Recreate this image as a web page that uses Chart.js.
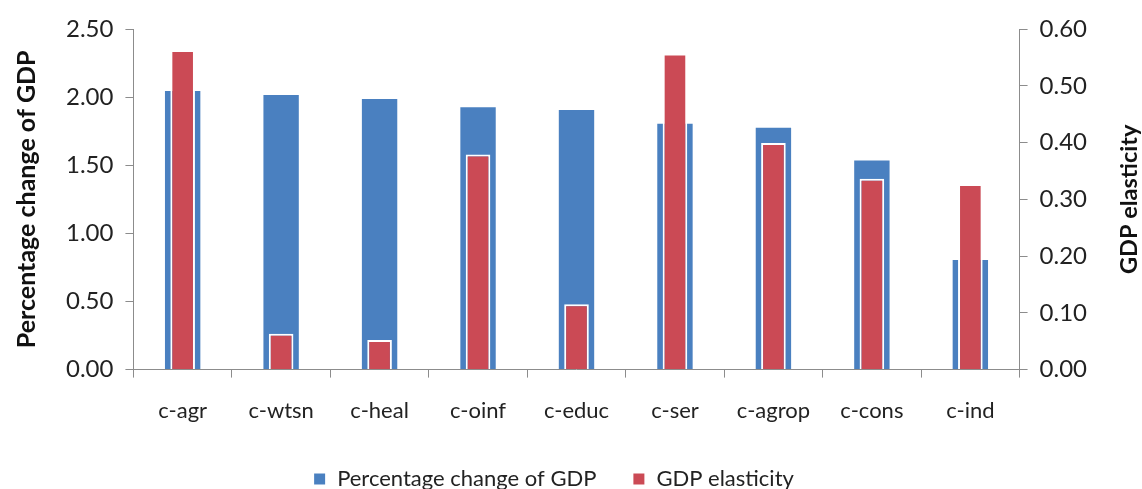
<!DOCTYPE html>
<html>
<head>
<meta charset="utf-8">
<script src="https://cdn.jsdelivr.net/npm/chart.js@4/dist/chart.umd.min.js"></script>
<style>
	html, body { margin: 0; padding: 0; background: #fff; }
	#wrap { width: 1142px; height: 489px; position: relative; }
</style>
</head>
<body>
<div id="wrap"><canvas id="bar-chart"></canvas></div>
<script>
	// data
	var categories = ['c-agr', 'c-wtsn', 'c-heal', 'c-oinf', 'c-educ', 'c-ser', 'c-agrop', 'c-cons', 'c-ind'];
	var gdpChange = [2.06, 2.03, 2.00, 1.94, 1.92, 1.82, 1.79, 1.55, 0.82];
	var gdpElasticity = [0.563, 0.063, 0.052, 0.379, 0.115, 0.557, 0.399, 0.336, 0.327];
	var leftTicks = [0, 0.5, 1, 1.5, 2, 2.5];
	var rightTicks = [0, 0.1, 0.2, 0.3, 0.4, 0.5, 0.6];

	var fontFamily = 'Lato, "Open Sans", sans-serif';
	var axisGray = '#8c8c8c';

	// right axis title reads bottom-to-top in the original, so draw it by hand
	var rightTitle = {
		id: 'rightTitle',
		afterDraw: function(chart) {
			var ctx = chart.ctx;
			var area = chart.chartArea;
			ctx.save();
			ctx.translate(1129, (area.top + area.bottom) / 2);
			ctx.rotate(-Math.PI / 2);
			ctx.font = 'bold 23.5px ' + fontFamily;
			ctx.fillStyle = '#111';
			ctx.textAlign = 'center';
			ctx.textBaseline = 'middle';
			ctx.fillText('GDP elasticity', 0, 0);
			ctx.restore();
		}
	};

	var ctx = document.getElementById('bar-chart');
	new Chart(ctx, {
		type: 'bar',
		data: {
			labels: categories,
			datasets: [
				{
					label: 'GDP elasticity',
					data: gdpElasticity,
					yAxisID: 'y1',
					backgroundColor: '#cb4a55',
					borderColor: '#ffffff',
					borderWidth: 2,
					borderSkipped: 'bottom',
					barPercentage: 0.25,
					categoryPercentage: 1,
					grouped: false,
					order: 1
				},
				{
					label: 'Percentage change of GDP',
					data: gdpChange,
					yAxisID: 'y',
					backgroundColor: '#4a80c0',
					borderColor: '#ffffff',
					borderWidth: 2,
					borderSkipped: 'bottom',
					barPercentage: 0.4,
					categoryPercentage: 1,
					grouped: false,
					order: 2
				}
			]
		},
		options: {
			responsive: true,
			maintainAspectRatio: false,
			animation: false,
			layout: { padding: { top: 29, right: 43, left: 8, bottom: -11 } },
			plugins: {
				tooltip: { enabled: false },
				legend: {
					position: 'bottom',
					reverse: true,
					labels: {
						font: { family: fontFamily, size: 22 },
						color: '#222',
						boxWidth: 13,
						boxHeight: 13,
						padding: 36
					}
				}
			},
			scales: {
				x: {
					grid: { display: true, drawOnChartArea: false, offset: true, color: axisGray, tickLength: 8 },
					border: { color: axisGray },
					ticks: { font: { family: fontFamily, size: 22 }, color: '#222', padding: 20 },
					afterFit: function(axis) {
						axis.height -= 12;
					}
				},
				y: {
					position: 'left',
					min: 0,
					max: 2.5,
					afterBuildTicks: function(axis) {
						axis.ticks = leftTicks.map(function(v) { return { value: v }; });
					},
					grid: { drawOnChartArea: false, color: axisGray, tickLength: 8 },
					border: { color: axisGray },
					ticks: {
						font: { family: fontFamily, size: 24 },
						color: '#222',
						padding: 12,
						callback: function(v) { return Number(v).toFixed(2); }
					},
					title: {
						display: true,
						text: 'Percentage change of GDP',
						font: { family: fontFamily, size: 25, weight: 'bold' },
						color: '#111',
						padding: { bottom: 12 }
					}
				},
				y1: {
					position: 'right',
					min: 0,
					max: 0.6,
					afterBuildTicks: function(axis) {
						axis.ticks = rightTicks.map(function(v) { return { value: v }; });
					},
					grid: { drawOnChartArea: false, color: axisGray, tickLength: 8 },
					border: { color: axisGray },
					ticks: {
						font: { family: fontFamily, size: 24 },
						color: '#222',
						padding: 12,
						callback: function(v) { return Number(v).toFixed(2); }
					}
				}
			}
		},
		plugins: [rightTitle]
	});
</script>
</body>
</html>
